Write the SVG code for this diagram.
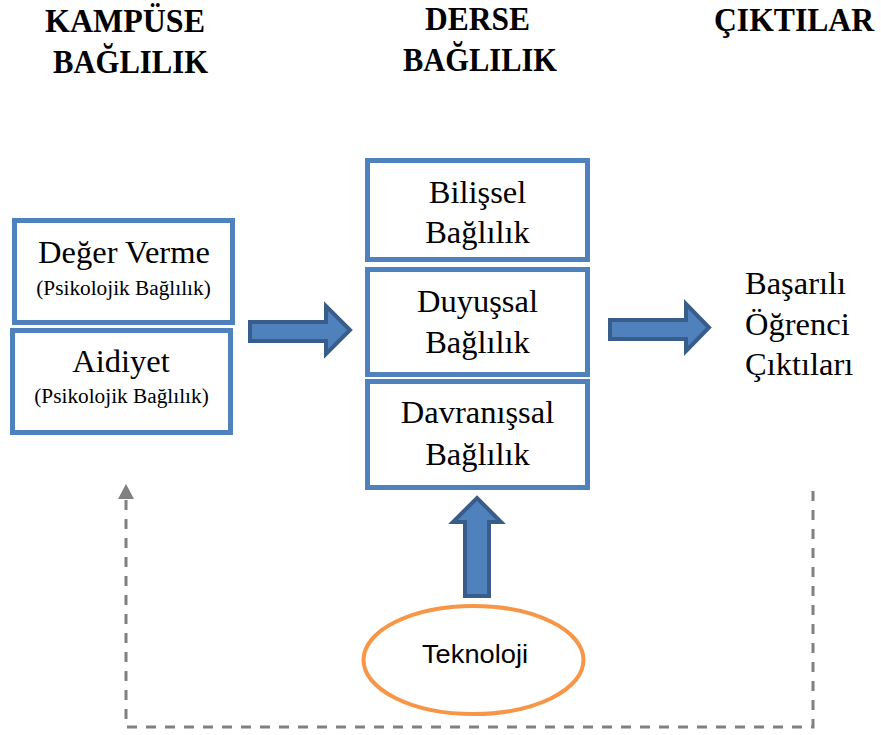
<svg xmlns="http://www.w3.org/2000/svg" width="881" height="735" viewBox="0 0 881 735">
  <style>
    .head { font-family: "Liberation Serif", "Times New Roman", serif; font-weight: bold; font-size: 33px; fill: #000; }
    .body { font-family: "Liberation Serif", "Times New Roman", serif; font-size: 32.5px; fill: #000; }
    .small { font-family: "Liberation Serif", "Times New Roman", serif; font-size: 21.3px; fill: #000; }
    .sans { font-family: "Liberation Sans", Arial, sans-serif; font-size: 25px; fill: #000; }
    .box { fill: #fff; stroke: #4F81BD; stroke-width: 5; }
    .block { fill: #4F81BD; stroke: #385D8A; stroke-width: 4; stroke-linejoin: miter; }
    .dash { fill: none; stroke: #808080; stroke-width: 3; stroke-dasharray: 10 9; }
  </style>
  <defs>
    <!-- grey triangle arrowhead, tip along +x -->
    <marker id="tri" markerWidth="15" markerHeight="16" refX="1" refY="8" orient="auto" markerUnits="userSpaceOnUse" viewBox="0 0 15 16">
      <path d="M0,0 L15,8 L0,16 Z" fill="#808080"/>
    </marker>
  </defs>
  <rect width="881" height="735" fill="#fff"/>

  <!-- column headings -->
  <g id="headings">
    <text class="head" x="45" y="32" textLength="160" lengthAdjust="spacingAndGlyphs">KAMPÜSE</text>
    <text class="head" x="53" y="73" textLength="155" lengthAdjust="spacingAndGlyphs">BAĞLILIK</text>
    <text class="head" x="425" y="30" textLength="105" lengthAdjust="spacingAndGlyphs">DERSE</text>
    <text class="head" x="403" y="71" textLength="154" lengthAdjust="spacingAndGlyphs">BAĞLILIK</text>
    <text class="head" x="714" y="31" textLength="160" lengthAdjust="spacingAndGlyphs">ÇIKTILAR</text>
  </g>

  <!-- campus engagement -->
  <g id="deger-verme">
    <rect class="box" x="14.5" y="220.5" width="218" height="102"/>
    <text class="body" x="124" y="263" text-anchor="middle">Değer Verme</text>
    <text class="small" x="123.5" y="295" text-anchor="middle">(Psikolojik Bağlılık)</text>
  </g>
  <g id="aidiyet">
    <rect class="box" x="12.5" y="330.5" width="218" height="102"/>
    <text class="body" x="121" y="372" text-anchor="middle">Aidiyet</text>
    <text class="small" x="121.5" y="403" text-anchor="middle">(Psikolojik Bağlılık)</text>
  </g>

  <!-- course engagement -->
  <g id="bilissel">
    <rect class="box" x="367.5" y="160.5" width="220" height="99"/>
    <text class="body" x="477.5" y="203" text-anchor="middle">Bilişsel</text>
    <text class="body" x="477.5" y="243" text-anchor="middle">Bağlılık</text>
  </g>
  <g id="duyussal">
    <rect class="box" x="367.5" y="269.5" width="220" height="105"/>
    <text class="body" x="477.5" y="312" text-anchor="middle">Duyuşsal</text>
    <text class="body" x="477.5" y="353" text-anchor="middle">Bağlılık</text>
  </g>
  <g id="davranissal">
    <rect class="box" x="367.5" y="381.5" width="220" height="106"/>
    <text class="body" x="477.5" y="423" text-anchor="middle">Davranışsal</text>
    <text class="body" x="477.5" y="465" text-anchor="middle">Bağlılık</text>
  </g>

  <!-- outcomes -->
  <g id="ciktilar">
    <text class="body" x="745" y="294">Başarılı</text>
    <text class="body" x="745" y="335">Öğrenci</text>
    <text class="body" x="745" y="375">Çıktıları</text>
  </g>

  <!-- technology -->
  <g id="teknoloji">
    <ellipse cx="473.5" cy="660" rx="110" ry="54" fill="#fff" stroke="#F79646" stroke-width="4"/>
    <text class="sans" x="475" y="663" text-anchor="middle" textLength="106" lengthAdjust="spacingAndGlyphs">Teknoloji</text>
  </g>

  <!-- connectors -->
  <g id="connectors">
    <path class="block" d="M250,322 L326,322 L326,306 L350,330 L326,354 L326,341 L250,341 Z"/>
    <path class="block" d="M610,320 L686,320 L686,304 L709,327.5 L686,351 L686,339 L610,339 Z"/>
    <path class="block" d="M465,596 L465,522 L453,522 L477,498 L501,522 L489,522 L489,596 Z"/>
    <polyline class="dash" points="813,491 813,727 126,727 126,498" marker-end="url(#tri)"/>
  </g>
</svg>
